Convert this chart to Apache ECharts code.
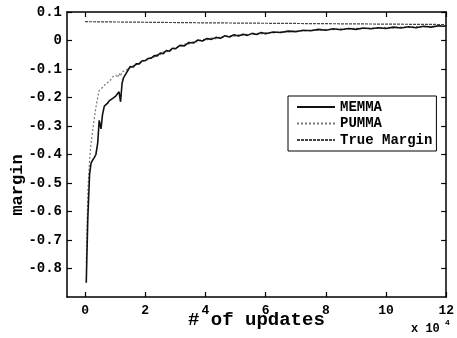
<!DOCTYPE html>
<html>
<head>
<meta charset="utf-8">
<script src="https://cdn.jsdelivr.net/npm/echarts@6/dist/echarts.min.js"></script>
<style>
html,body{margin:0;padding:0;background:#fff;}
#chart{width:457px;height:338px;}
</style>
</head>
<body>
<div id="chart"></div>
<script>
// x values in units of 10^4 updates
var updates = [
  0.04, 0.09, 0.15, 0.20, 0.25, 0.31, 0.36, 0.42, 0.47, 0.53,
  0.58, 0.64, 0.70, 0.75, 0.80, 0.86, 0.92, 0.97, 1.02, 1.08,
  1.13, 1.18, 1.23, 1.28, 1.35, 1.40, 1.45, 1.50, 1.60, 1.70,
  1.80, 1.90, 2.00, 2.10, 2.20, 2.30, 2.40, 2.50, 2.60, 2.70,
  2.80, 2.90, 3.00, 3.15, 3.30, 3.45, 3.60, 3.75, 3.90, 4.05,
  4.20, 4.35, 4.50, 4.65, 4.80, 4.95, 5.10, 5.25, 5.40, 5.55,
  5.70, 5.85, 6.00, 6.25, 6.50, 6.75, 7.00, 7.25, 7.50, 7.75,
  8.00, 8.25, 8.50, 8.75, 9.00, 9.25, 9.50, 9.75, 10.00, 10.25,
  10.50, 10.75, 11.00, 11.25, 11.50, 11.75, 11.90, 12.00
];
var memma = [
  -0.85, -0.63, -0.47, -0.43, -0.42, -0.41, -0.40, -0.36, -0.28, -0.31,
  -0.26, -0.23, -0.225, -0.22, -0.212, -0.21, -0.203, -0.20, -0.195, -0.188,
  -0.18, -0.215, -0.15, -0.13, -0.118, -0.113, -0.10, -0.092, -0.093, -0.082,
  -0.082, -0.071, -0.071, -0.063, -0.062, -0.053, -0.054, -0.044, -0.046, -0.035,
  -0.038, -0.027, -0.029, -0.017, -0.019, -0.007, -0.009, 0.002, -0.002, 0.007,
  0.004, 0.011, 0.008, 0.017, 0.012, 0.020, 0.016, 0.022, 0.018, 0.025,
  0.021, 0.028, 0.024, 0.030, 0.028, 0.033, 0.031, 0.036, 0.034, 0.039,
  0.036, 0.041, 0.038, 0.042, 0.039, 0.044, 0.041, 0.045, 0.042, 0.047,
  0.044, 0.048, 0.045, 0.050, 0.047, 0.052, 0.050, 0.052
];
var pumma = [
  -0.78, -0.53, -0.42, -0.36, -0.32, -0.27, -0.235, -0.20, -0.175, -0.17,
  -0.165, -0.16, -0.15, -0.148, -0.145, -0.14, -0.128, -0.135, -0.121, -0.13,
  -0.115, -0.125, -0.11, -0.115, -0.104, -0.10, -0.098, -0.09, -0.088, -0.086,
  -0.077, -0.076, -0.066, -0.068, -0.057, -0.058, -0.049, -0.050, -0.040, -0.041,
  -0.032, -0.033, -0.024, -0.022, -0.013, -0.012, -0.004, -0.004, 0.004, 0.002,
  0.009, 0.006, 0.013, 0.012, 0.017, 0.014, 0.020, 0.018, 0.023, 0.020,
  0.025, 0.023, 0.028, 0.027, 0.031, 0.030, 0.034, 0.033, 0.037, 0.035,
  0.039, 0.038, 0.041, 0.040, 0.043, 0.041, 0.044, 0.043, 0.046, 0.044,
  0.047, 0.046, 0.049, 0.048, 0.050, 0.049, 0.051, 0.050
];
var trueX = [0, 4, 8, 12];
var trueMargin = [0.066, 0.062, 0.059, 0.056];
var xTicks = [0, 2, 4, 6, 8, 10, 12];
var yTicks = [-0.8, -0.7, -0.6, -0.5, -0.4, -0.3, -0.2, -0.1, 0, 0.1];

function zip(xs, ys) {
  var out = [];
  for (var i = 0; i < Math.min(xs.length, ys.length); i++) out.push([xs[i], ys[i]]);
  return out;
}

var FONT = '"Liberation Mono", "DejaVu Sans Mono", monospace';
var chart = echarts.init(document.getElementById('chart'), null, {renderer: 'canvas'});

var axisLineStyle = {color: '#000', width: 1.5};
var commonX = {
  type: 'value', min: -0.6, max: 12,
  splitLine: {show: false},
  axisLine: {show: true, onZero: false, lineStyle: axisLineStyle},
  axisTick: {show: true, inside: true, length: 5, lineStyle: {color: '#000', width: 1.2}, customValues: xTicks}
};
var commonY = {
  type: 'value', min: -0.9, max: 0.1,
  splitLine: {show: false},
  axisLine: {show: true, onZero: false, lineStyle: axisLineStyle},
  axisTick: {show: true, inside: true, length: 5, lineStyle: {color: '#000', width: 1.2}, customValues: yTicks}
};

chart.setOption({
  animation: false,
  backgroundColor: '#fff',
  grid: {left: 67, right: 4, top: 12, bottom: 41, containLabel: false},
  xAxis: [
    Object.assign({}, commonX, {
      position: 'bottom',
      axisLabel: {
        customValues: xTicks, margin: 7, color: '#000',
        fontFamily: FONT, fontSize: 13, fontWeight: 'bold',
        formatter: function (v) { return String(Math.round(v)); }
      }
    }),
    Object.assign({}, commonX, {position: 'top', axisLabel: {show: false}})
  ],
  yAxis: [
    Object.assign({}, commonY, {
      position: 'left',
      axisLabel: {
        customValues: yTicks, margin: 5, color: '#000',
        fontFamily: FONT, fontSize: 14, fontWeight: 'bold',
        formatter: function (v) { return Math.abs(v) < 1e-9 ? '0' : v.toFixed(1); }
      }
    }),
    Object.assign({}, commonY, {position: 'right', axisLabel: {show: false}})
  ],
  legend: {
    orient: 'vertical', left: 288, top: 96,
    itemWidth: 38, itemHeight: 12, itemGap: 2.5,
    padding: [4, 4, 4, 8],
    borderColor: '#000', borderWidth: 1,
    backgroundColor: '#fff',
    itemStyle: {color: 'rgba(0,0,0,0)', borderWidth: 0, opacity: 0},
    textStyle: {fontFamily: FONT, fontSize: 14, fontWeight: 'bold', color: '#000'},
    data: ['MEMMA', 'PUMMA', 'True Margin']
  },
  graphic: [
    {type: 'text', left: 188, top: 311, style: {text: '# of updates', font: 'bold 19px ' + FONT, fill: '#000'}},
    {type: 'text', x: 18, y: 185, rotation: Math.PI / 2, style: {text: 'margin', font: 'bold 17px ' + FONT, fill: '#000', align: 'center', verticalAlign: 'middle'}},
    {type: 'text', left: 411, top: 323, style: {text: 'x 10', font: 'bold 12px ' + FONT, fill: '#000'}},
    {type: 'text', left: 445, top: 319, style: {text: '4', font: 'bold 8px ' + FONT, fill: '#000'}}
  ],
  series: [
    {
      name: 'MEMMA', type: 'line', symbol: 'none', z: 4,
      data: zip(updates, memma),
      lineStyle: {color: '#111', width: 1.6},
      itemStyle: {color: '#111'}
    },
    {
      name: 'PUMMA', type: 'line', symbol: 'none', z: 3,
      data: zip(updates, pumma),
      lineStyle: {color: '#777', width: 1.2, type: [2, 2]},
      itemStyle: {color: '#555'}
    },
    {
      name: 'True Margin', type: 'line', symbol: 'none', z: 2,
      data: zip(trueX, trueMargin),
      lineStyle: {color: '#444', width: 1.2, type: [3, 1]},
      itemStyle: {color: '#444'}
    }
  ]
});
</script>
</body>
</html>
